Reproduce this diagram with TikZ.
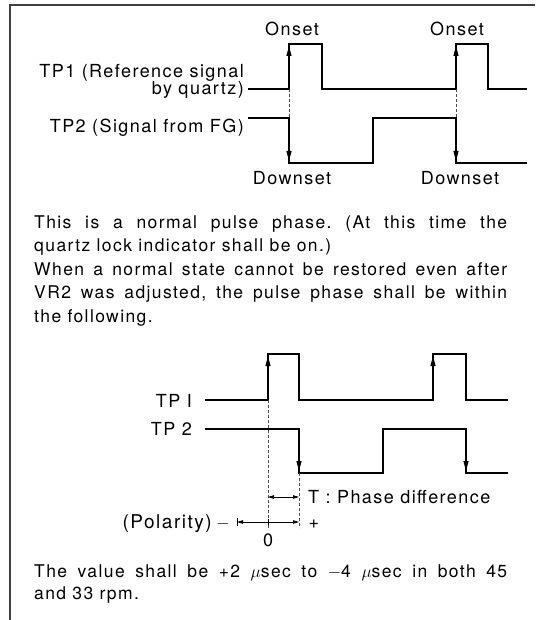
\documentclass[tikz,border=0pt]{standalone}
\usepackage{fontspec}
\setmainfont{TeX Gyre Heros}[LetterSpace=8]
\usetikzlibrary{arrows.meta}
\frenchspacing

% one justified line of the running text
\newcommand{\fullline}[1]{\makebox[473pt][s]{#1}}

\begin{document}
\begin{tikzpicture}[x=1pt, y=-1pt,
  wave/.style={line width=1.1pt, line join=miter},
  edgetip/.style={line width=1.1pt, -{Triangle[length=10pt,width=5pt]}, shorten >=2pt},
  guide/.style={line width=0.6pt, dash pattern=on 3pt off 2pt, black!70},
  frame/.style={line width=1.6pt, black!75},
  span/.style={line width=0.8pt},
  smalltip/.style={span, {Triangle[length=6pt,width=3.5pt]}-{Triangle[length=6pt,width=3.5pt]}},
  lbl/.style={inner sep=0pt, font=\fontsize{18}{18}\selectfont},
  txt/.style={inner sep=0pt, anchor=base west, font=\fontsize{17.5}{17.5}\selectfont}]
  \useasboundingbox (0,0) rectangle (535,620);
  % panel rules: top and left only
  \draw[frame] (535,5) -- (10,5) -- (10,620);
  % upper chart, TP1 on top, TP2 below
  \draw[wave] (248,89) -- (289,89) -- (289,44) -- (322,44) -- (322,89)
    -- (456,89) -- (456,44) -- (488,44) -- (488,89) -- (527,89);
  \draw[wave] (248,118) -- (289,118) -- (289,163) -- (373,163) -- (373,118)
    -- (456,118) -- (456,163) -- (527,163);
  % onset / downset edges line up, joined by a broken guide
  \foreach \x in {289,456} {
    \draw[edgetip] (\x,89) -- (\x,44);
    \draw[edgetip] (\x,118) -- (\x,163);
    \draw[guide] (\x,89) -- (\x,118);
  }
  \node[lbl, anchor=base east] (tponeA) at (244,78) {TP1 (Reference signal};
  \node[lbl, anchor=base east] (tponeB) at (244,95) {by quartz)};
  \node[lbl, anchor=base east] (tptwo) at (244,133) {TP2 (Signal from FG)};
  \node[lbl, anchor=base] (onsetA) at (292,36) {Onset};
  \node[lbl, anchor=base] (onsetB) at (457,36) {Onset};
  \node[lbl, anchor=base] (downA) at (292,185) {Downset};
  \node[lbl, anchor=base] (downB) at (460,185) {Downset};
  % running text
  \node[txt] (lineA) at (34,228) {\fullline{This is a normal pulse phase. (At this time the}};
  \node[txt] (lineB) at (34,251.5) {quartz lock indicator shall be on.)};
  \node[txt] (lineC) at (34,275) {\fullline{When a normal state cannot be restored even after}};
  \node[txt] (lineD) at (34,298.5) {\fullline{VR2 was adjusted, the pulse phase shall be within}};
  \node[txt] (lineE) at (34,322) {the following.};
  % lower chart, TP2 lags TP1 by T
  \draw[wave] (205,400) -- (268,400) -- (268,354) -- (299,354) -- (299,400)
    -- (433,400) -- (433,354) -- (466,354) -- (466,400) -- (508,400);
  \draw[wave] (205,429) -- (299,429) -- (299,473) -- (383,473) -- (383,429)
    -- (466,429) -- (466,473) -- (508,473);
  \foreach \x in {268,433}
    \draw[edgetip] (\x,400) -- (\x,354);
  \foreach \x in {299,466}
    \draw[edgetip] (\x,429) -- (\x,473);
  \draw[guide] (268,400) -- (268,530);
  \draw[guide] (299,473) -- (299,528);
  % phase difference and polarity scale
  \draw[smalltip] (268,497) -- (299,497);
  \draw[smalltip] (237,522) -- (299,522);
  \draw[span] (237,518) -- (237,526);
  \draw[span] (268,519) -- (268,525);
  \node[lbl, anchor=base east] (tpI) at (192,407) {TP I};
  \node[lbl, anchor=base east] (tpII) at (192,435) {TP 2};
  \node[lbl, anchor=base west] (phase) at (308,503) {T : Phase difference};
  \node[lbl, anchor=base east, font=\fontsize{19}{19}\selectfont] (polar) at (212,528) {(Polarity)};
  \node[lbl, anchor=base] (minus) at (223,528) {$-$};
  \node[lbl, anchor=base] (plus) at (314,528) {+};
  \node[lbl, anchor=base] (nought) at (268,546) {0};
  % closing text
  \node[txt] (valA) at (34,577) {\fullline{The value shall be +2 $\mu$sec to $-$4 $\mu$sec in both 45}};
  \node[txt] (valB) at (34,599) {and 33 rpm.};
\end{tikzpicture}
\end{document}
